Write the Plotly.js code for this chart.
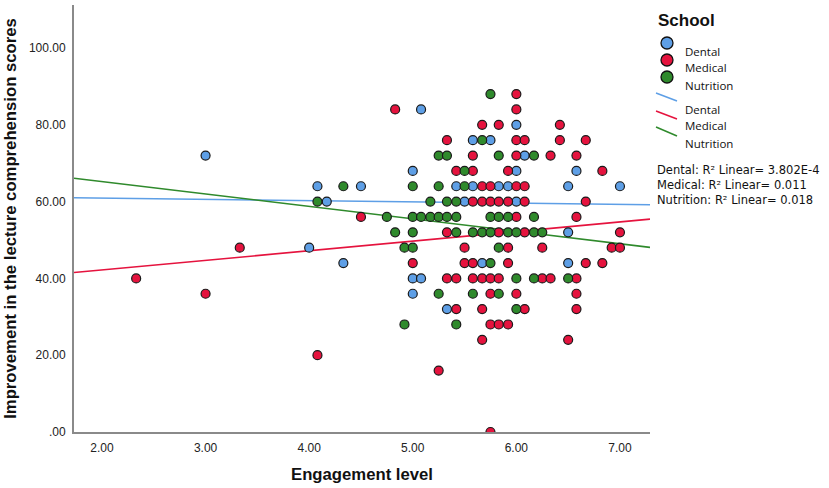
<!DOCTYPE html>
<html>
<head>
<meta charset="utf-8">
<script src="https://cdn.plot.ly/plotly-3.0.1.min.js"></script>
<style>
  body { margin: 0; background: #fff; }
  #chart { width: 829px; height: 488px; }
</style>
</head>
<body>
<div id="chart"></div>
<script>
// Scatter data (engagement level vs. score improvement)
const dentalX = [3.00, 4.00, 4.08, 4.17, 4.33, 4.50, 5.08, 6.00, 5.58, 5.75, 6.08, 5.00, 6.00, 6.58,
  5.42, 5.58, 5.83, 5.92, 6.50, 7.00, 5.50, 6.00, 6.50, 5.67, 6.50, 5.00, 5.08, 5.00, 5.33];
const dentalY = [72, 48, 64, 60, 44, 64, 84, 80, 76, 76, 72, 68, 68, 68,
  64, 64, 64, 64, 64, 64, 60, 60, 52, 44, 44, 40, 40, 36, 32];

const medicalX = [2.33, 3.00, 3.33, 4.08, 4.50, 4.83,
  6.00, 6.00,
  5.67, 5.83, 6.42,
  5.33, 6.00, 6.08, 6.42, 6.67,
  5.58, 6.00, 6.33, 6.58,
  5.42, 5.58, 5.92, 6.83,
  5.67, 5.75, 6.00, 6.08,
  5.58, 5.67, 5.75, 5.83, 5.92, 6.08, 6.67,
  6.00, 6.58,
  5.33, 5.83, 6.08, 7.00,
  5.50, 5.92, 6.25, 6.92, 7.00,
  5.00, 5.50, 5.58, 5.92, 6.67, 6.83,
  5.33, 5.42, 5.58, 5.67, 5.75, 5.83, 6.25, 6.33, 6.58,
  5.75, 6.00, 6.58,
  5.42, 5.67, 6.08, 6.58,
  5.75, 5.83, 5.92,
  5.67, 6.50,
  5.25,
  5.75];
const medicalY = [40, 36, 48, 20, 56, 84,
  88, 84,
  80, 80, 80,
  76, 76, 76, 76, 76,
  72, 72, 72, 72,
  68, 68, 68, 68,
  64, 64, 64, 64,
  60, 60, 60, 60, 60, 60, 60,
  56, 56,
  52, 52, 52, 52,
  48, 48, 48, 48, 48,
  44, 44, 44, 44, 44, 44,
  40, 40, 40, 40, 40, 40, 40, 40, 40,
  36, 36, 36,
  32, 32, 32, 32,
  28, 28, 28,
  24, 24,
  16,
  0];

const nutritionX = [5.75, 5.67,
  5.25, 5.33, 5.83, 6.17,
  5.50,
  4.33, 5.00, 5.25, 5.50,
  4.08, 5.17, 5.33, 5.42,
  4.75, 5.00, 5.08, 5.17, 5.25, 5.33, 5.42, 5.75, 5.83, 5.92, 6.17,
  4.83, 5.00, 5.42, 5.58, 5.67, 5.75, 5.92, 6.00, 6.17, 6.25,
  4.92, 5.00, 5.83,
  5.75,
  6.00, 6.17, 6.50,
  5.25, 5.58, 5.83,
  6.00,
  4.92, 5.42];
const nutritionY = [88, 76,
  72, 72, 72, 72,
  68,
  64, 64, 64, 64,
  60, 60, 60, 60,
  56, 56, 56, 56, 56, 56, 56, 56, 56, 56, 56,
  52, 52, 52, 52, 52, 52, 52, 52, 52, 52,
  48, 48, 48,
  44,
  40, 40, 40,
  36, 36, 36,
  32,
  28, 28];

const schools = ['Dental', 'Medical', 'Nutrition'];
const colors = ['#5e9fe6', '#e5133e', '#2f8a2c'];
const fitIntercepts = [61.56, 37.2, 71.7];
const fitSlopes = [-0.324, 2.5, -3.24];
const r2Labels = ['3.802E-4', '0.011', '0.018'];

const xRange = [1.73, 7.29];
const yRange = [0, 111.2];
const xTicks = [2, 3, 4, 5, 6, 7];
const xTickText = ['2.00', '3.00', '4.00', '5.00', '6.00', '7.00'];
const yTicks = [0, 20, 40, 60, 80, 100];
const yTickText = ['.00', '20.00', '40.00', '60.00', '80.00', '100.00'];

// Page geometry (pixels), used to place the hand-built legend
const W = 829, H = 488;
const M = {l: 74, r: 179, t: 5, b: 56};
function px(x) { return (x - M.l) / (W - M.l - M.r); }
function py(y) { return 1 - (y - M.t) / (H - M.t - M.b); }

const seriesX = [dentalX, medicalX, nutritionX];
const seriesY = [dentalY, medicalY, nutritionY];

const traces = [];

// Fit lines first, so the dots sit on top
schools.forEach((s, i) => {
    traces.push({
        x: xRange,
        y: xRange.map(v => fitIntercepts[i] + fitSlopes[i] * v),
        type: 'scatter',
        mode: 'lines',
        line: {color: colors[i], width: 1.6},
        hoverinfo: 'skip',
        showlegend: false
    });
});

schools.forEach((s, i) => {
    traces.push({
        x: seriesX[i],
        y: seriesY[i],
        name: s,
        type: 'scatter',
        mode: 'markers',
        marker: {size: 9, color: colors[i], line: {color: '#1a1a1a', width: 1.2}},
        showlegend: false
    });
});

// Custom legend: circles, slanted line glyphs and text
const shapes = [];
const annotations = [];
const legendFont = {family: 'Open Sans, Arial, sans-serif', size: 11.5, color: '#111'};

annotations.push({
    xref: 'paper', yref: 'paper', x: px(656), y: py(20), xanchor: 'left', yanchor: 'middle',
    text: 'School', showarrow: false,
    font: {family: 'Liberation Sans, Arial, sans-serif', size: 17, color: '#111', weight: 'bold'}
});

const dotY = [43, 60, 77];
const dotLabelY = [51, 68, 85];
const lineY = [[93, 101], [111, 119], [127, 136]];
const lineLabelY = [109, 126, 143];
const r2Y = [170, 185, 200];

schools.forEach((s, i) => {
    shapes.push({
        type: 'circle', xref: 'paper', yref: 'paper',
        xsizemode: 'pixel', ysizemode: 'pixel',
        xanchor: px(667), yanchor: py(dotY[i]),
        x0: -6, x1: 6, y0: -6, y1: 6,
        fillcolor: colors[i], line: {color: '#111', width: 1.3}
    });
    annotations.push({
        xref: 'paper', yref: 'paper', x: px(684), y: py(dotLabelY[i]),
        xanchor: 'left', yanchor: 'middle', text: s, showarrow: false,
        borderpad: 0, font: legendFont
    });
    shapes.push({
        type: 'line', xref: 'paper', yref: 'paper',
        x0: px(656), x1: px(677), y0: py(lineY[i][0]), y1: py(lineY[i][1]),
        line: {color: colors[i], width: 1.5}
    });
    annotations.push({
        xref: 'paper', yref: 'paper', x: px(684), y: py(lineLabelY[i]),
        xanchor: 'left', yanchor: 'middle', text: s, showarrow: false,
        borderpad: 0, font: legendFont
    });
    annotations.push({
        xref: 'paper', yref: 'paper', x: px(656), y: py(r2Y[i]),
        xanchor: 'left', yanchor: 'middle',
        text: s + ': R² Linear= ' + r2Labels[i], showarrow: false,
        borderpad: 0,
        font: {family: 'DejaVu Sans, Verdana, sans-serif', size: 11.5, color: '#111'}
    });
});

const axisFont = {family: 'Liberation Sans, Arial, sans-serif', size: 12, color: '#222'};
const titleFont = {family: 'Liberation Sans, Arial, sans-serif', size: 16.7, color: '#111', weight: 'bold'};

const layout = {
    width: W,
    height: H,
    margin: M,
    paper_bgcolor: '#fff',
    plot_bgcolor: '#fff',
    showlegend: false,
    xaxis: {
        range: xRange,
        showgrid: false, zeroline: false,
        showline: true, linecolor: '#8a8a8a', linewidth: 2,
        ticks: '', tickvals: xTicks, ticktext: xTickText, tickfont: axisFont,
        ticklabelstandoff: 4,
        title: {text: 'Engagement level', font: titleFont, standoff: 14}
    },
    yaxis: {
        range: yRange,
        showgrid: false, zeroline: false,
        showline: true, linecolor: '#8a8a8a', linewidth: 2,
        ticks: '', tickvals: yTicks, ticktext: yTickText, tickfont: axisFont,
        ticklabelstandoff: 4,
        title: {text: 'Improvement in the lecture comprehension scores', font: titleFont, standoff: 8}
    },
    shapes: shapes,
    annotations: annotations
};

Plotly.newPlot('chart', traces, layout, {displayModeBar: false, staticPlot: true});
</script>
</body>
</html>
